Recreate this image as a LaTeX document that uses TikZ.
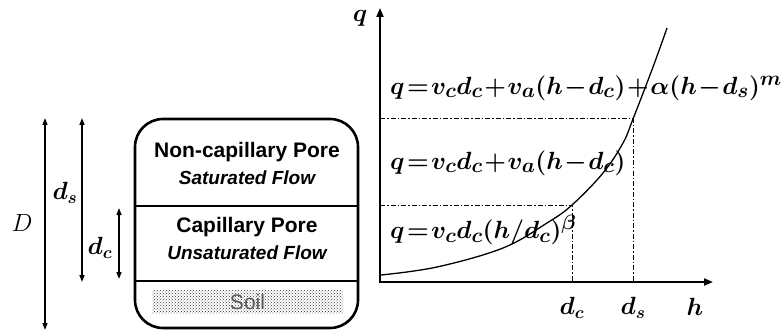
\documentclass[tikz,border=0pt]{standalone}
\usepackage{fontspec}
\setsansfont{Liberation Sans}
\usetikzlibrary{arrows.meta, positioning, patterns}
\newcommand{\tighteq}{\medmuskip=1mu\relax\thickmuskip=1.5mu\relax}

\begin{document}
\begin{tikzpicture}[x=1pt, y=-1pt,
    axis/.style={{Triangle[length=9pt,width=7pt]}-{Triangle[length=9pt,width=7pt]}, line width=2pt},
    guide/.style={line width=1pt, dash pattern=on 5pt off 2pt on 1.5pt off 2pt},
    span/.style={{Triangle[length=7pt,width=5pt]}-{Triangle[length=7pt,width=5pt]}, line width=1.3pt},
    layer/.style={line width=2.6pt},
    title/.style={font=\sffamily\bfseries\fontsize{21}{24}\selectfont, inner sep=0pt},
    flow/.style={font=\sffamily\bfseries\itshape\fontsize{19}{22}\selectfont, inner sep=0pt},
    eq/.style={font=\fontsize{28}{30}\selectfont\boldmath, anchor=west, inner sep=0pt},
    dim/.style={font=\fontsize{26}{30}\selectfont\boldmath, inner sep=0pt},
]
    \useasboundingbox (0,0) rectangle (783,331);

    % soil column
    \draw[layer, rounded corners=28pt] (135,119) rectangle (358,328);
    \coordinate (sl) at (135,206);  \coordinate (sr) at (358,206);
    \coordinate (cl) at (135,281);  \coordinate (cr) at (358,281);
    \draw[layer] (sl) -- (sr);
    \draw[layer] (cl) -- (cr);

    \node[title] (ncp)   at (247,152) {Non-capillary Pore};
    \node[flow]  (sat)   at (247,178) {Saturated Flow};
    \node[title] (cp)    at (247,227) {Capillary Pore};
    \node[flow]  (unsat) at (247,253) {Unsaturated Flow};
    \node[pattern=crosshatch dots, pattern color=black!80, minimum width=191pt,
          minimum height=23pt, inner sep=0pt, text=black!65,
          font=\sffamily\fontsize{21}{22}\selectfont] (soil) at (247.5,301.5) {Soil};

    % depths
    \coordinate (Dtop)  at (45,118);  \coordinate (Dbot)  at (45,330);
    \coordinate (dstop) at (82,118);  \coordinate (dsbot) at (82,282);
    \coordinate (dctop) at (119,208); \coordinate (dcbot) at (119,279);
    \draw[span] (Dtop) -- (Dbot);
    \draw[span] (dstop) -- (dsbot);
    \draw[span] (dctop) -- (dcbot);
    \node[font=\fontsize{29}{30}\selectfont, inner sep=0pt] (Dlab) at (22,223) {$D$};
    \node[dim] (dslab) at (65,193) {$d_s$};
    \node[dim] (dclab) at (100,248) {$d_c$};

    % q-h graph
    \coordinate (qtip) at (380,8);
    \coordinate (o)    at (380,282);
    \coordinate (htip) at (713,282);
    \draw[axis] (qtip) -- (o) -- (htip);
    \node[dim] (qlab) at (360,18)  {$q$};
    \node[dim] (hlab) at (695,307) {$h$};

    \coordinate (kc) at (572,205);
    \coordinate (ks) at (633,119);
    \coordinate (qc) at (380,205);
    \coordinate (qs) at (380,119);
    \coordinate (hc) at (572,282);
    \coordinate (hs) at (633,282);
    \draw[guide] (qc) -- (kc) -- (hc);
    \draw[guide] (qs) -- (ks) -- (hs);
    \node[dim] (dcaxis) at (572,308) {$d_c$};
    \node[dim] (dsaxis) at (633,308) {$d_s$};

    \draw[line width=1.3pt] plot[smooth, tension=0.6] coordinates
        {(381,275) (437,267) (503,248) (547,223) (kc) (603,173) (623,143) (ks) (653,67) (667,28)};

    \node[eq] (eq1) at (390,88)  {$\tighteq q=v_c d_c+v_a(h-d_c)+\alpha(h-d_s)^m$};
    \node[eq] (eq2) at (390,163) {$\tighteq q=v_c d_c+v_a(h-d_c)$};
    \node[eq] (eq3) at (390,230) {$\tighteq q=v_c d_c(h/d_c)^\beta$};
\end{tikzpicture}
\end{document}
